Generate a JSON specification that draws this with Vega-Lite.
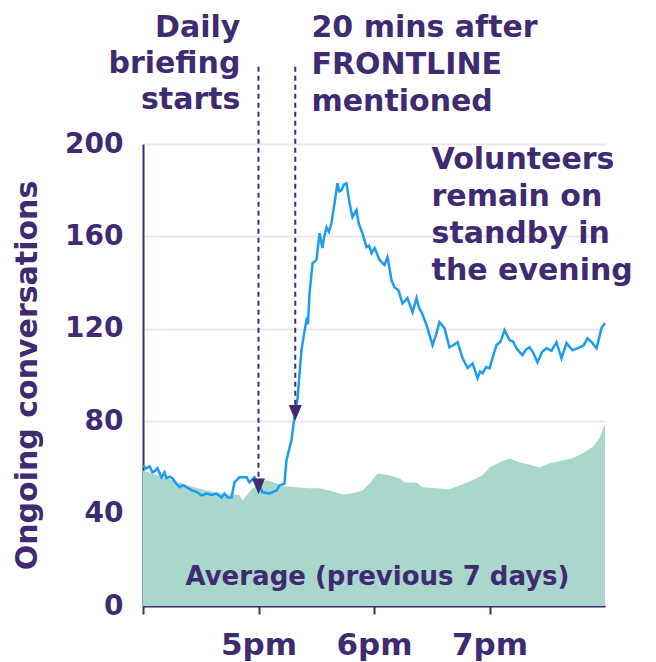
{
  "$schema": "https://vega.github.io/schema/vega-lite/v6.json",
  "width": 462,
  "height": 462,
  "autosize": "none",
  "padding": {"left": 143, "top": 144, "right": 51, "bottom": 56},
  "background": "white",
  "config": {
    "font": "DejaVu Sans",
    "view": {"stroke": null},
    "text": {"lineBreak": "\n"}
  },
  "datasets": {
    "avg": [
      {"t": 0, "n": 58.7}, {"t": 6, "n": 57}, {"t": 15.3, "n": 54.4}, {"t": 24.2, "n": 52}, {"t": 33, "n": 50},
      {"t": 42.3, "n": 48.5}, {"t": 50.1, "n": 48}, {"t": 51.7, "n": 45.7}, {"t": 56.9, "n": 51}, {"t": 64.2, "n": 54.4},
      {"t": 68.3, "n": 53.5}, {"t": 72.5, "n": 52}, {"t": 79.7, "n": 51.4}, {"t": 86.5, "n": 51}, {"t": 91.7, "n": 51},
      {"t": 96.9, "n": 50}, {"t": 102, "n": 48.7}, {"t": 104.7, "n": 48.3}, {"t": 109.9, "n": 49}, {"t": 114, "n": 50},
      {"t": 117.7, "n": 53}, {"t": 121.8, "n": 57.4}, {"t": 128, "n": 56.6}, {"t": 133.2, "n": 55.3}, {"t": 135.8, "n": 53.5},
      {"t": 142.1, "n": 53.5}, {"t": 145.2, "n": 51.4}, {"t": 152.5, "n": 51}, {"t": 159.2, "n": 50.5}, {"t": 164.4, "n": 52.2},
      {"t": 171.2, "n": 54.4}, {"t": 176.4, "n": 56.6}, {"t": 180, "n": 60}, {"t": 185.2, "n": 62.2}, {"t": 190.4, "n": 63.9},
      {"t": 195.6, "n": 62.2}, {"t": 200.8, "n": 61.3}, {"t": 206, "n": 60}, {"t": 211.2, "n": 61.8}, {"t": 217.9, "n": 63},
      {"t": 223.1, "n": 64}, {"t": 228.3, "n": 66}, {"t": 233.5, "n": 68.7}, {"t": 237.1, "n": 72.6}, {"t": 240, "n": 79}
    ],
    "live": [
      {"t": 0, "n": 60.9}, {"t": 1.5, "n": 59.5}, {"t": 3.4, "n": 60.5}, {"t": 4.9, "n": 57.9}, {"t": 6.2, "n": 58.4}, {"t": 7.5, "n": 59.6}, {"t": 9.6, "n": 55.7},
      {"t": 11.2, "n": 57.9}, {"t": 12.2, "n": 55.3}, {"t": 13.8, "n": 56}, {"t": 15.3, "n": 55.3}, {"t": 17.2, "n": 53}, {"t": 19, "n": 51.4}, {"t": 20.8, "n": 52.3}, {"t": 22.6, "n": 51.4},
      {"t": 25.7, "n": 50}, {"t": 28, "n": 49.3}, {"t": 30.4, "n": 47.9}, {"t": 33, "n": 48.7}, {"t": 35.6, "n": 48.1}, {"t": 38.2, "n": 48.7}, {"t": 40.8, "n": 47},
      {"t": 42.3, "n": 48.7}, {"t": 43.9, "n": 47}, {"t": 46, "n": 47}, {"t": 47.5, "n": 53.5}, {"t": 50.1, "n": 55.7},
      {"t": 53.8, "n": 55.7}, {"t": 55.3, "n": 53.5}, {"t": 57.9, "n": 55.7}, {"t": 59.5, "n": 53.5}, {"t": 62.1, "n": 49.2},
      {"t": 65.7, "n": 48.7}, {"t": 69.4, "n": 50}, {"t": 70.9, "n": 52.2}, {"t": 73.5, "n": 53}, {"t": 74.5, "n": 63},
      {"t": 77.1, "n": 71.7}, {"t": 78.7, "n": 81.7}, {"t": 80.3, "n": 90}, {"t": 82.3, "n": 110.7}, {"t": 83.9, "n": 119},
      {"t": 84.9, "n": 123.7}, {"t": 85.7, "n": 122}, {"t": 86.5, "n": 135.4}, {"t": 88.1, "n": 148.4}, {"t": 90.1, "n": 149.8}, {"t": 91.7, "n": 161.4},
      {"t": 93.2, "n": 155}, {"t": 94.2, "n": 160}, {"t": 95.3, "n": 164}, {"t": 96.6, "n": 162}, {"t": 97.9, "n": 165.8}, {"t": 99.5, "n": 174.4}, {"t": 101, "n": 183},
      {"t": 102, "n": 179.5}, {"t": 103.1, "n": 180}, {"t": 104.4, "n": 182.5}, {"t": 105.7, "n": 183}, {"t": 107.3, "n": 174.4}, {"t": 108.8, "n": 168.4}, {"t": 110.9, "n": 171.4},
      {"t": 112, "n": 165.8}, {"t": 113, "n": 163.5}, {"t": 114, "n": 161.4}, {"t": 116.1, "n": 155.4}, {"t": 117.4, "n": 156}, {"t": 118.7, "n": 152.7}, {"t": 120.3, "n": 155},
      {"t": 122.9, "n": 149.8}, {"t": 125.5, "n": 147.6}, {"t": 127, "n": 151}, {"t": 128.1, "n": 146}, {"t": 129.1, "n": 141}, {"t": 130.6, "n": 138},
      {"t": 132.7, "n": 136.7}, {"t": 134.8, "n": 131}, {"t": 136, "n": 132}, {"t": 137.4, "n": 133.3}, {"t": 140, "n": 127.2}, {"t": 142.1, "n": 133.3},
      {"t": 143.4, "n": 129}, {"t": 144.7, "n": 127.2}, {"t": 147.3, "n": 121.6}, {"t": 150.4, "n": 112.9}, {"t": 152.1, "n": 117}, {"t": 154, "n": 122.9}, {"t": 156.6, "n": 120.3},
      {"t": 159.2, "n": 112}, {"t": 161.3, "n": 113}, {"t": 163.4, "n": 114.2}, {"t": 166, "n": 107.3}, {"t": 168.6, "n": 103}, {"t": 171.2, "n": 105},
      {"t": 173.8, "n": 98.6}, {"t": 175.1, "n": 101.5}, {"t": 176.4, "n": 100.8}, {"t": 178.2, "n": 103.4}, {"t": 180, "n": 102.9}, {"t": 183.6, "n": 112.9}, {"t": 185.8, "n": 114.5}, {"t": 187.8, "n": 119.4},
      {"t": 190.4, "n": 115.1}, {"t": 192.2, "n": 114.5}, {"t": 194, "n": 111.6}, {"t": 197.1, "n": 108.6}, {"t": 198.9, "n": 111}, {"t": 200.8, "n": 112}, {"t": 202.8, "n": 109.5}, {"t": 204.9, "n": 105.5},
      {"t": 207.3, "n": 110}, {"t": 209.6, "n": 111.6}, {"t": 212.2, "n": 110.5}, {"t": 214.8, "n": 114.2}, {"t": 217.4, "n": 107.3}, {"t": 220, "n": 113.8}, {"t": 223.1, "n": 110.7},
      {"t": 226.8, "n": 112}, {"t": 228.9, "n": 112.8}, {"t": 230.9, "n": 115.9}, {"t": 233.3, "n": 114}, {"t": 235.6, "n": 111.6}, {"t": 238.2, "n": 120.3}, {"t": 240, "n": 122.5}
    ],
    "markers": [
      {"t": 60, "tip": 51.8, "top": 233.4},
      {"t": 79.1, "tip": 83.6, "top": 233.4}
    ],
    "notesRight": [
      {"t": 50.6, "n": 250.3, "label": "Daily\nbriefing\nstarts"}
    ],
    "notesLeft": [
      {"t": 87.5, "n": 250.3, "label": "20 mins after\nFRONTLINE\nmentioned"},
      {"t": 149.9, "n": 193.1, "label": "Volunteers\nremain on\nstandby in\nthe evening"}
    ],
    "notesCenter": [
      {"t": 121.8, "n": 12.4, "label": "Average (previous 7 days)"}
    ]
  },
  "layer": [
    {
      "data": {"name": "avg"},
      "mark": {"type": "area", "color": "#a9d7cc", "interpolate": "linear"},
      "encoding": {
        "x": {
          "field": "t", "type": "quantitative",
          "scale": {"domain": [0, 240], "nice": false, "zero": false},
          "axis": {
            "values": [0, 60, 120, 180],
            "labelExpr": "datum.value == 0 ? '' : datum.value == 60 ? '5pm' : datum.value == 120 ? '6pm' : '7pm'",
            "title": null,
            "grid": false,
            "domainColor": "#3f2b72", "domainWidth": 2,
            "tickColor": "#3f2b72", "tickWidth": 2, "tickSize": 8,
            "labelColor": "#3f2b72", "labelFontSize": 31, "labelFontWeight": 700,
            "labelPadding": 16, "labelDx": -10, "labelFont": "DejaVu Sans"
          }
        },
        "y": {
          "field": "n", "type": "quantitative",
          "scale": {"domain": [0, 200], "nice": false},
          "axis": {
            "values": [0, 40, 80, 120, 160, 200],
            "title": "Ongoing conversations",
            "grid": true, "gridColor": "#e9e7f0", "gridWidth": 2,
            "domainColor": "#3f2b72", "domainWidth": 2,
            "ticks": false,
            "labelColor": "#3f2b72", "labelFontSize": 28, "labelFontWeight": 700,
            "labelPadding": 20, "labelFont": "DejaVu Sans",
            "titleColor": "#3f2b72", "titleFontSize": 30, "titleFontWeight": 700,
            "titleFont": "DejaVu Sans",
            "titleX": -116, "titleY": 231, "titleAlign": "center", "titleBaseline": "middle", "titleAngle": -90
          }
        }
      }
    },
    {
      "data": {"name": "live"},
      "mark": {"type": "line", "color": "#1b9cf2", "strokeWidth": 2.5, "interpolate": "linear"},
      "encoding": {
        "x": {"field": "t", "type": "quantitative"},
        "y": {"field": "n", "type": "quantitative"}
      }
    },
    {
      "data": {"name": "markers"},
      "mark": {"type": "rule", "color": "#3f2b72", "strokeWidth": 2, "strokeDash": [5, 4]},
      "encoding": {
        "x": {"field": "t", "type": "quantitative"},
        "y": {"field": "top", "type": "quantitative"},
        "y2": {"field": "tip"}
      }
    },
    {
      "data": {"name": "markers"},
      "mark": {"type": "point", "shape": "M-1,-1.2L1,-1.2L0,1.2Z", "filled": true, "color": "#3f2b72", "opacity": 1, "size": 170},
      "encoding": {
        "x": {"field": "t", "type": "quantitative"},
        "y": {"field": "tip", "type": "quantitative"}
      }
    },
    {
      "data": {"name": "notesRight"},
      "mark": {"type": "text", "align": "right", "baseline": "middle", "fontSize": 30, "fontWeight": 700, "lineHeight": 36, "color": "#3f2b72"},
      "encoding": {
        "x": {"field": "t", "type": "quantitative"},
        "y": {"field": "n", "type": "quantitative"},
        "text": {"field": "label"}
      }
    },
    {
      "data": {"name": "notesLeft"},
      "mark": {"type": "text", "align": "left", "baseline": "middle", "fontSize": 30, "fontWeight": 700, "lineHeight": 37, "color": "#3f2b72"},
      "encoding": {
        "x": {"field": "t", "type": "quantitative"},
        "y": {"field": "n", "type": "quantitative"},
        "text": {"field": "label"}
      }
    },
    {
      "data": {"name": "notesCenter"},
      "mark": {"type": "text", "align": "center", "baseline": "middle", "fontSize": 26, "fontWeight": 700, "color": "#3f2b72"},
      "encoding": {
        "x": {"field": "t", "type": "quantitative"},
        "y": {"field": "n", "type": "quantitative"},
        "text": {"field": "label"}
      }
    }
  ]
}
